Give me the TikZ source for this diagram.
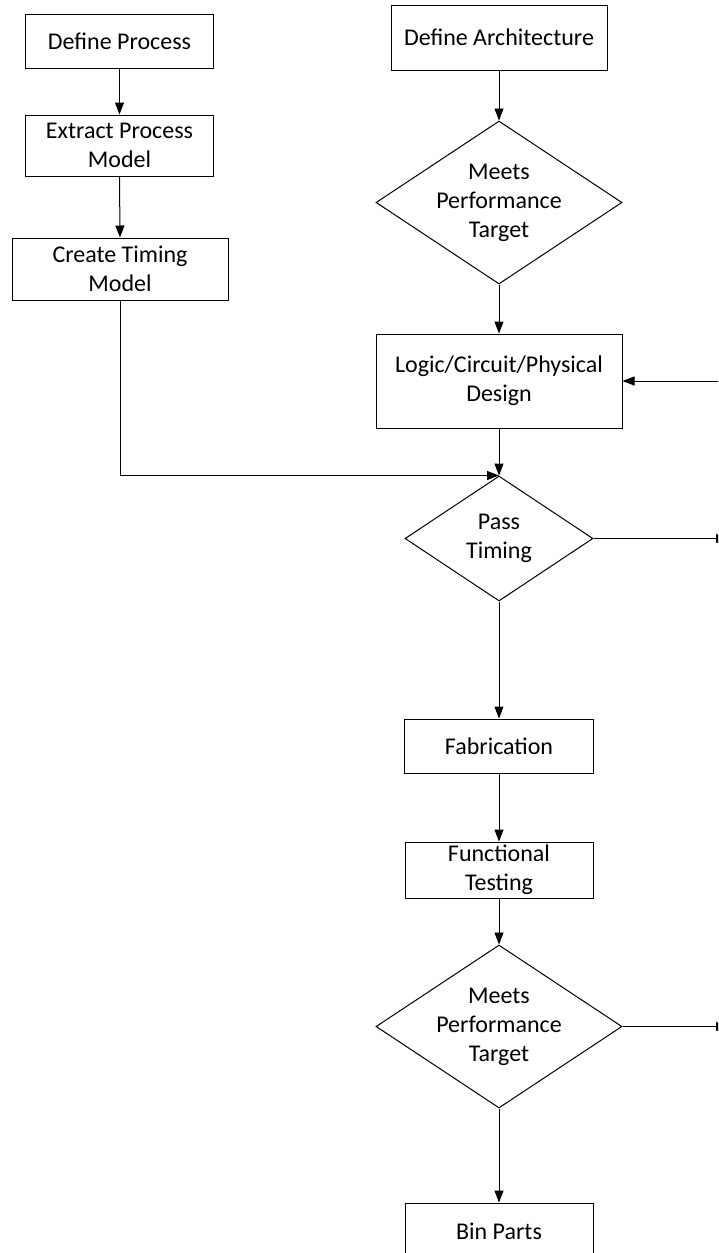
\documentclass[tikz,border=0pt]{standalone}
\usepackage{fontspec}
\setmainfont{Carlito}
\usepackage{tikz}
\usetikzlibrary{arrows.meta,positioning,shapes.geometric}

\begin{document}
\begin{tikzpicture}[
  x=0.5pt, y=-0.5pt,
  block/.style={draw, line width=0.5pt, inner sep=0pt, align=center, font=\fontsize{12}{14.5}\selectfont},
  decision/.style={draw, diamond, aspect=1.5, line width=0.5pt, inner sep=0pt, align=center, font=\fontsize{12}{14.5}\selectfont},
  arrow/.style={-{Triangle[length=6pt,width=4.5pt]}, line width=0.5pt}
]
\clip (0,0) rectangle (718,1253);
% left column
\node[block, minimum width=94pt, minimum height=27pt] (defproc) at (119.5,41) {Define Process};
\node[block, minimum width=94pt, minimum height=30.5pt] (extract) at (119.5,145.5) {Extract Process\\Model};
\node[block, minimum width=108pt, minimum height=31pt] (timing) at (120,269) {Create Timing\\Model};
% right column
\node[block, minimum width=108pt, minimum height=32.5pt] (defarch) at (499,37.5) {Define Architecture};
\node[decision, minimum width=123pt, minimum height=81.5pt] (perf1) at (499,202.5) {Meets\\Performance\\Target};
\node[block, minimum width=123pt, minimum height=47pt] (design) at (499,381) {Logic/Circuit/Physical\\Design};
\node[decision, minimum width=94pt, minimum height=62.5pt] (passtim) at (499,538.5) {Pass\\Timing};
\node[block, minimum width=94.5pt, minimum height=27pt] (fab) at (499,746) {Fabrication};
\node[block, minimum width=94pt, minimum height=28pt] (functest) at (499,870) {Functional\\Testing};
\node[decision, minimum width=123pt, minimum height=81.5pt] (perf2) at (499,1026.5) {Meets\\Performance\\Target};
\node[block, minimum width=94pt, minimum height=28pt] (binparts) at (499,1231) {Bin Parts};
% loose ends at the right edge
\coordinate (loopin) at (730,381);
\coordinate (failtim) at (728,538.5);
\coordinate (failperf) at (728,1026.5);
\draw[arrow] (defproc.south) -- (extract.north);
\draw[arrow] (extract.south) -- (timing.north);
\draw[arrow] (timing.south) |- (passtim.north);
\draw[arrow] (defarch.south) -- (perf1.north);
\draw[arrow] (perf1.south) -- (design.north);
\draw[arrow] (loopin) -- (design.east);
\draw[arrow] (design.south) -- (passtim.north);
\draw[arrow] (passtim.east) -- (failtim);
\draw[arrow] (passtim.south) -- (fab.north);
\draw[arrow] (fab.south) -- (functest.north);
\draw[arrow] (functest.south) -- (perf2.north);
\draw[arrow] (perf2.east) -- (failperf);
\draw[arrow] (perf2.south) -- (binparts.north);
\end{tikzpicture}
\end{document}
